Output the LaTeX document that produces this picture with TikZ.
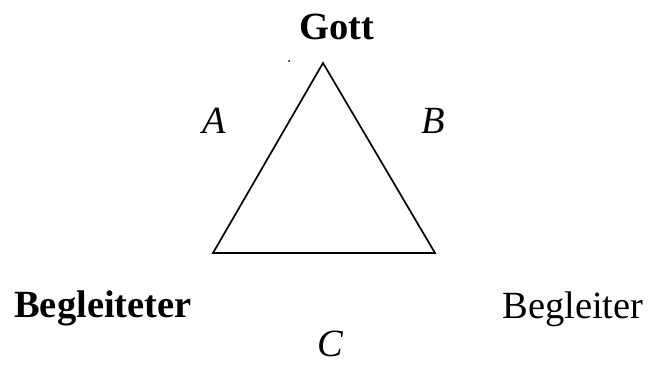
\documentclass[tikz,border=0pt]{standalone}
\usepackage{fontspec}
\setmainfont{Liberation Serif}
\begin{document}
\begin{tikzpicture}[x=1pt,y=-1pt,font=\fontsize{38.5}{44}\selectfont,
  lbl/.style={anchor=base,inner sep=0pt}]
\useasboundingbox (0,0) rectangle (652,365);
% triangle corners
\coordinate (top) at (323,63); \coordinate (bl) at (213,253); \coordinate (br) at (435,253);
\draw[line width=1.7pt,line join=miter] (top) -- (br) -- (bl) -- cycle;
% labels
\node[lbl] (gott) at (337,39) {\textbf{Gott}};
\node[lbl] (a) at (214,133) {\textit{A}};
\node[lbl] (b) at (433,133) {\textit{B}};
\node[lbl] (begltr) at (103,317) {\textbf{Begleiteter}};
\node[lbl] (beglr) at (573,318) {Begleiter};
\node[lbl] (c) at (331,356) {\textit{C}};
\fill (289,61) circle (1pt);
\end{tikzpicture}
\end{document}
